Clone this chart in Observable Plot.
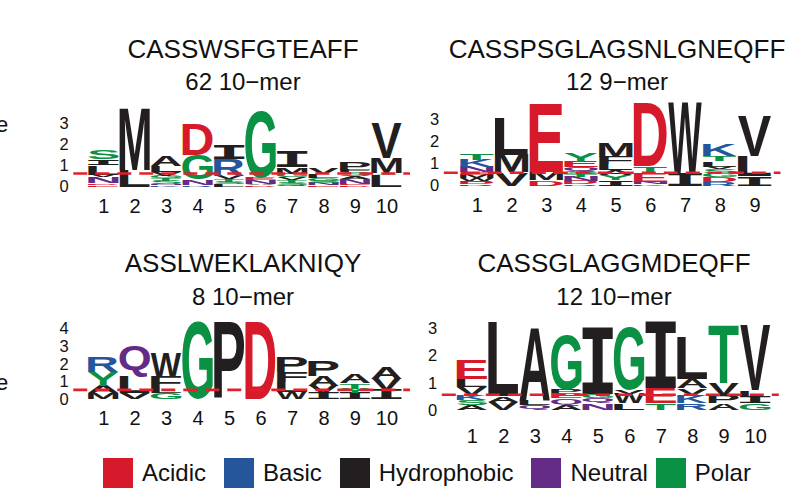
<!DOCTYPE html>
<html><head><meta charset="utf-8">
<script src="https://cdn.jsdelivr.net/npm/d3@7"></script>
<script src="https://cdn.jsdelivr.net/npm/@observablehq/plot@0.6"></script>
<style>
body{margin:0;background:#fff;font-family:"Liberation Sans",Arial,sans-serif;}
#root{position:relative;width:799px;height:502px;overflow:hidden;background:#fff;}
.panel{position:absolute;}
#legend{position:absolute;left:103px;top:456px;}
#legend span > svg{margin-right:9px !important;}
#legend span{margin-right:18px !important;}
#legend span:nth-of-type(4){margin-right:8px !important;}
</style></head><body><div id="root"></div>
<script>
// ---------- data ----------
const groups = ["Acidic","Basic","Hydrophobic","Neutral","Polar"];
const groupColors = ["#d71a2b","#25569b","#231f20","#642b86","#0b9144"];
const acidicLetters = ["D","E"];
const basicLetters = ["K","R","H"];
const neutralLetters = ["Q","N"];
const polarLetters = ["G","S","T","Y","C"];

const titles = ["CASSWSFGTEAFF","CASSPSGLAGSNLGNEQFF","ASSLWEKLAKNIQY","CASSGLAGGMDEQFF"];
const subtitles = ["62 10\u2212mer","12 9\u2212mer","8 10\u2212mer","12 10\u2212mer"];
const thresholds = [0.64, 0.6, 0.56, 0.58];
const yTickValues = [[0,1,2,3],[0,1,2,3],[0,1,2,3,4],[0,1,2,3]];

// each column: [letter, height in bits] from bottom to top
const logo1 = [
 [["E",0.08],["D",0.07],["N",0.3],["V",0.12],["L",0.45],["I",0.26],["S",0.44]],
 [["L",0.8],["M",2.95]],
 [["K",0.05],["N",0.07],["S",0.15],["T",0.12],["G",0.13],["V",0.18],["L",0.3],["A",0.5]],
 [["R",0.06],["N",0.26],["G",1.2],["D",1.43]],
 [["L",0.1],["S",0.12],["T",0.12],["V",0.18],["R",0.78],["I",0.7]],
 [["D",0.07],["A",0.06],["N",0.16],["E",0.12],["G",3.2]],
 [["Q",0.06],["S",0.12],["T",0.12],["V",0.14],["G",0.16],["M",0.32],["I",0.72]],
 [["E",0.05],["N",0.1],["S",0.12],["G",0.12],["L",0.2],["V",0.3]],
 [["D",0.06],["E",0.06],["N",0.22],["A",0.14],["S",0.2],["F",0.1],["P",0.38]],
 [["L",0.55],["Y",0.08],["M",0.72],["V",1.65]]
];
const logo2 = [
 [["R",0.06],["D",0.08],["Q",0.08],["W",0.12],["M",0.16],["E",0.1],["N",0.26],["K",0.32],["T",0.3]],
 [["V",0.6],["M",0.8],["L",1.7]],
 [["D",0.25],["M",0.35],["E",3.1]],
 [["R",0.05],["D",0.15],["N",0.2],["T",0.1],["S",0.12],["Q",0.2],["E",0.27],["Y",0.38]],
 [["I",0.25],["Y",0.22],["A",0.22],["L",0.3],["F",0.32],["M",0.62]],
 [["K",0.06],["N",0.12],["E",0.4],["T",0.3],["D",2.85]],
 [["I",0.56],["W",3.2]],
 [["R",0.18],["D",0.22],["G",0.15],["S",0.2],["V",0.1],["L",0.25],["T",0.25],["K",0.5]],
 [["I",0.41],["L",0.95],["V",1.8]]
];
const logo3 = [
 [["M",0.35],["A",0.42],["Y",0.78],["R",0.85]],
 [["V",0.35],["L",0.9],["Q",1.8]],
 [["G",0.33],["L",0.3],["F",0.65],["W",1.35]],
 [["G",4.35]],
 [["P",4.35]],
 [["D",4.35]],
 [["W",0.4],["L",0.55],["F",0.6],["P",0.9]],
 [["I",0.35],["V",0.4],["A",0.55],["P",0.85]],
 [["I",0.35],["Y",0.25],["T",0.3],["A",0.5]],
 [["I",0.55],["V",0.62],["A",0.68]]
];
const logo4 = [
 [["A",0.18],["S",0.18],["K",0.18],["V",0.3],["L",0.3],["E",0.7]],
 [["V",0.3],["A",0.2],["L",2.75]],
 [["Q",0.2],["L",0.18],["A",2.67]],
 [["A",0.18],["Q",0.25],["E",0.18],["P",0.12],["G",2.02]],
 [["N",0.25],["Q",0.2],["G",0.15],["I",2.45]],
 [["L",0.25],["W",0.35],["V",0.13],["G",2.33]],
 [["T",0.25],["E",0.55],["I",2.45]],
 [["R",0.25],["K",0.3],["V",0.25],["A",0.35],["L",1.53]],
 [["A",0.25],["P",0.3],["V",0.43],["T",2.14]],
 [["G",0.25],["I",0.24],["L",0.24],["V",2.39]]
];
const logos = [logo1, logo2, logo3, logo4];

// ---------- layout ----------
const layout = [
 {left:0,   top:95,  width:430, height:135, mt:7.5,  mb:43.5, ml:73.3, mr:20,   ymax:4,   pad:11.3},
 {left:420, top:90,  width:379, height:140, mt:7.5,  mb:44.5, ml:23.8, mr:18.5, ymax:4,   pad:11.3},
 {left:0,   top:305, width:430, height:135, mt:5.55, mb:40.7, ml:73.3, mr:20,   ymax:5,   pad:10.5},
 {left:420, top:310, width:379, height:135, mt:7.5,  mb:35,   ml:21.8, mr:20.2, ymax:3.4, pad:17.8}
];
const titlePos = [
 {x:243, ty:58, sy:90}, {x:617, ty:58, sy:90},
 {x:243, ty:272, sy:305}, {x:614, ty:272, sy:305}
];

function groupOf(ch) {
  if (acidicLetters.includes(ch)) return "Acidic";
  if (basicLetters.includes(ch)) return "Basic";
  if (neutralLetters.includes(ch)) return "Neutral";
  if (polarLetters.includes(ch)) return "Polar";
  return "Hydrophobic";
}
function stackRows(logo) {
  const rows = [];
  logo.forEach((col, j) => {
    let acc = 0;
    for (const [letter, h] of col) {
      rows.push({pos: j + 1, letter, y1: acc, y2: acc + h, group: groupOf(letter)});
      acc += h;
    }
  });
  return rows;
}

const meas = document.createElement("canvas").getContext("2d");
const boxCache = {};
function fontFor(ch) { return ch === "I" ? "DejaVu Sans Mono" : "Liberation Sans"; }
function glyphBox(ch) {
  if (boxCache[ch]) return boxCache[ch];
  meas.font = `bold 100px "${fontFor(ch)}"`;
  const m = meas.measureText(ch);
  return boxCache[ch] = {l: m.actualBoundingBoxLeft, r: m.actualBoundingBoxRight,
                         a: m.actualBoundingBoxAscent, d: m.actualBoundingBoxDescent};
}
function letterRender(rows) {
  return function(index, scales, values) {
    const g = d3.create("svg:g");
    for (const i of index) {
      const xa = values.x1[i], xb = values.x2[i];
      const ya = Math.min(values.y1[i], values.y2[i]), yb = Math.max(values.y1[i], values.y2[i]);
      if (yb - ya < 0.4) continue;
      const ch = rows[i].letter, b = glyphBox(ch);
      const sx = (xb - xa) / (b.l + b.r), sy = (yb - ya) / (b.a + b.d);
      g.append("text")
        .attr("transform", `translate(${xa + b.l * sx},${ya + b.a * sy}) scale(${sx},${sy})`)
        .attr("font-family", fontFor(ch)).attr("font-weight", "bold").attr("font-size", 100)
        .attr("text-anchor", "start")
        .attr("fill", values.fill[i]).text(ch);
    }
    return g.node();
  };
}

const root = document.getElementById("root");

// titles overlay
const over = d3.select(root).append("svg").attr("width", 799).attr("height", 502)
  .style("position", "absolute").style("left", 0).style("top", 0)
  .attr("font-family", "Liberation Sans, Arial, sans-serif").attr("fill", "#111");
titles.forEach((t, k) => {
  over.append("text").attr("x", titlePos[k].x).attr("y", titlePos[k].ty)
    .attr("text-anchor", "middle").attr("font-size", 26).text(t);
  over.append("text").attr("x", titlePos[k].x).attr("y", titlePos[k].sy)
    .attr("text-anchor", "middle").attr("font-size", 24).text(subtitles[k]);
});
over.append("text").attr("x", -4).attr("y", 132).attr("font-size", 22).text("e");
over.append("text").attr("x", -4).attr("y", 390).attr("font-size", 22).text("e");

logos.forEach((logo, k) => {
  const L = layout[k];
  const rows = stackRows(logo);
  const n = logo.length;
  const chart = Plot.plot({
    width: L.width, height: L.height,
    marginTop: L.mt, marginBottom: L.mb, marginLeft: L.ml, marginRight: L.mr,
    x: {domain: [0.05, n + 0.75]},
    y: {domain: [0, L.ymax]},
    color: {domain: groups, range: groupColors},
    style: {background: "transparent", fontFamily: "Liberation Sans, Arial, sans-serif", overflow: "visible", color: "#111"},
    marks: [
      Plot.rect(rows, {
        x1: d => d.pos - 0.485, x2: d => d.pos + 0.485, y1: "y1", y2: "y2",
        fill: "group", render: letterRender(rows)
      }),
      Plot.ruleY([thresholds[k]], {stroke: "#e3202a", strokeWidth: 2.6, strokeDasharray: "14,8"}),
      Plot.axisX({ticks: d3.range(1, n + 1), tickSize: 0, tickPadding: L.pad, fontSize: 20, label: null, tickFormat: d => String(d)}),
      Plot.axisY({ticks: yTickValues[k], tickSize: 0, tickPadding: 5, fontSize: 16.5, label: null, tickFormat: d => String(d)})
    ]
  });
  const div = document.createElement("div");
  div.className = "panel";
  div.style.left = L.left + "px"; div.style.top = L.top + "px";
  div.style.width = L.width + "px"; div.style.height = L.height + "px";
  div.appendChild(chart);
  root.appendChild(div);
});

const legend = Plot.legend({
  legend: "swatches",
  color: {domain: groups, range: groupColors},
  swatchSize: 30,
  style: {fontSize: "24px", fontFamily: "Liberation Sans, Arial, sans-serif", color: "#111"}
});
const ldiv = document.createElement("div");
ldiv.id = "legend";
ldiv.appendChild(legend);
root.appendChild(ldiv);
</script></body></html>
